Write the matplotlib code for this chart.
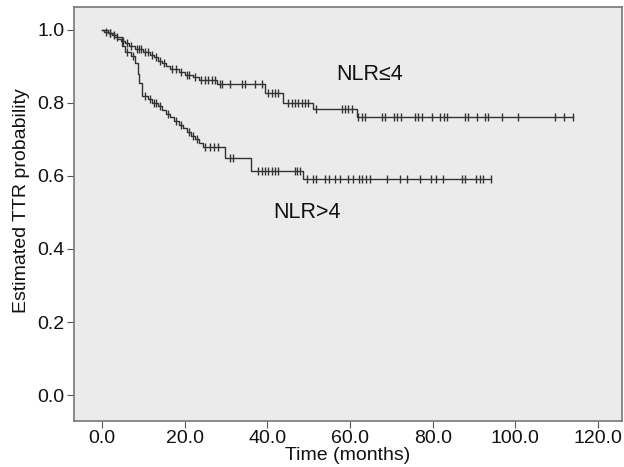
import matplotlib.pyplot as plt
import numpy as np

plt.rcParams['font.family'] = ['Liberation Sans', 'DejaVu Sans']

# NLR<=4 : step times (months) and survival after each step
low_t = [0.5, 1.5, 2.5, 3.5, 4.5, 5.5, 6.5, 8, 10, 11.5, 12.5, 13.5, 14.5, 15.5,
         16.5, 18.5, 20, 22, 23.5, 27.7, 39.4, 43.8, 51, 61.7]
low_s = [0.995, 0.99, 0.985, 0.975, 0.97, 0.963, 0.955, 0.948, 0.94, 0.932, 0.925,
         0.915, 0.908, 0.90, 0.893, 0.885, 0.877, 0.87, 0.862, 0.852, 0.826, 0.80,
         0.783, 0.762]
low_cens = [1, 2, 3, 5, 6, 7, 8.5, 9, 9.5, 10.5, 11, 12, 13, 14, 15, 17, 18, 19, 20.5,
            21, 22.5, 24, 25, 25.7, 26.6, 27.3, 28.6, 29, 31, 33.8, 34.6, 37, 38.6,
            40.2, 41, 41.9, 42.6, 45, 46, 46.7, 47.4, 48.4, 49.1, 49.8, 51.8, 58,
            58.8, 59.6, 60.4, 61.9, 62.9, 63.6, 67.7, 68.5, 70.6, 71.4, 72.3, 75.7,
            76.5, 77.4, 79.8, 81.8, 82.7, 83.5, 87.8, 88.6, 90.7, 92.7, 93.4, 96.8,
            100.7, 109.6, 111.8, 114]

# NLR>4
high_t = [1.5, 3, 4.8, 5.5, 7, 8, 8.6, 9, 9.6, 11, 12, 13.5, 14.5, 15.5, 16.5, 17.5,
          18.5, 19.5, 20.5, 21.5, 22.5, 23.5, 24.5, 29.8, 36, 48.7]
high_s = [0.99, 0.98, 0.955, 0.94, 0.927, 0.91, 0.88, 0.855, 0.82, 0.81, 0.80, 0.79,
          0.78, 0.77, 0.76, 0.75, 0.74, 0.73, 0.72, 0.71, 0.70, 0.69, 0.678, 0.648,
          0.612, 0.592]
high_cens = [2, 3.5, 6, 7.5, 10.5, 11.5, 12.5, 13, 14, 16, 18, 19, 21, 22, 23, 25, 26,
             27, 28, 31, 31.7, 37.8, 38.7, 39.4, 40.2, 41.1, 41.9, 42.6, 46.7, 47.2,
             48, 49.5, 51, 51.8, 54, 54.8, 56.4, 57.6, 59.6, 60.8, 62.2, 63, 63.8,
             64.9, 68.9, 72, 73.7, 76.9, 79.7, 80.9, 82.5, 87, 87.8, 90.6, 91.4, 92.2,
             94.2]


def km_curve(ax, times, surv, cens):
    t = np.concatenate([[0], times, [max(cens)]])
    s = np.concatenate([[1.0], surv, [surv[-1]]])
    ax.step(t, s, where='post', color='#333333', lw=1.0)
    cens = np.array(cens)
    idx = np.searchsorted(t, cens, side='right') - 1
    ax.plot(cens, s[idx], ls='none', marker='|', ms=6, mew=1.0, color='#333333')


fig = plt.figure(figsize=(6.24, 4.67), dpi=100)
ax = fig.add_axes([0.1186, 0.0985, 0.878, 0.8855])
ax.set_facecolor('#ebebeb')

km_curve(ax, low_t, low_s, low_cens)
km_curve(ax, high_t, high_s, high_cens)

ax.text(64.8, 0.877, 'NLR≤4', fontsize=15.5, ha='center', va='center', color='#111111')
ax.text(49.7, 0.50, 'NLR>4', fontsize=15.5, ha='center', va='center', color='#111111')

ax.set_xlim(-6.8, 125.8)
ax.set_ylim(-0.071, 1.061)
ax.set_xticks(np.arange(0, 121, 20))
ax.set_xticklabels(['%.1f' % v for v in np.arange(0, 121, 20)])
ax.set_yticks(np.arange(0, 1.01, 0.2))
ax.set_yticklabels(['%.1f' % v for v in np.arange(0, 1.01, 0.2)])
ax.tick_params(labelsize=14, length=5, color='#555555', labelcolor='#111111')
ax.tick_params(axis='x', pad=1.5)
ax.tick_params(axis='y', pad=2)
for sp in ax.spines.values():
    sp.set_color('#777777')
    sp.set_linewidth(1.2)

ax.set_xlabel('Time (months)', fontsize=14, color='#111111', labelpad=0)
ax.set_ylabel('Estimated TTR probability', fontsize=14, color='#111111')
ax.yaxis.set_label_coords(-0.08, 0.532)

fig.savefig('out.png', dpi=100)
